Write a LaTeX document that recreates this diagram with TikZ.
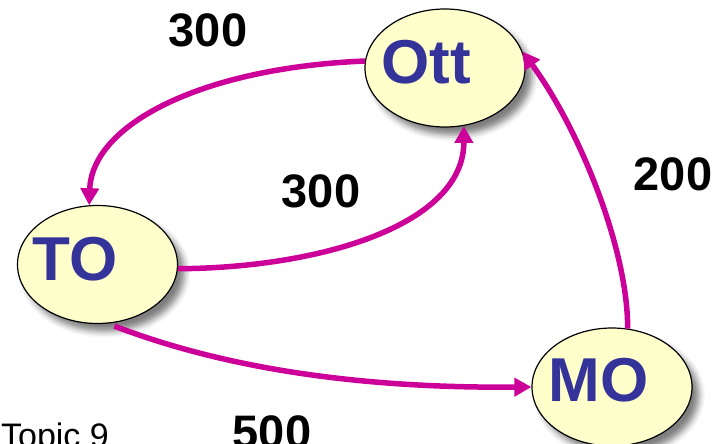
\documentclass[tikz,border=0pt]{standalone}
\usepackage{fontspec}
\setmainfont{Liberation Sans}
\usepackage{xcolor}
\usepackage{tikz}
\usetikzlibrary{arrows.meta,shapes.geometric,shadows.blur}
\definecolor{cityfill}{RGB}{255,255,204}
\definecolor{cityblue}{RGB}{51,51,153}
\definecolor{linkmagenta}{RGB}{204,0,153}

\begin{document}
\begin{tikzpicture}[
    x=1pt, y=-1pt,
    city/.style={ellipse, draw=black, line width=1.2pt, fill=cityfill, minimum width=160pt, minimum height=118pt, inner sep=0pt,
        blur shadow={shadow xshift=7pt, shadow yshift=-8pt, shadow blur radius=6pt, shadow opacity=50}},
    cityname/.style={anchor=base, inner sep=0pt, text=cityblue, font=\fontsize{62}{62}\selectfont\bfseries},
    cost/.style={anchor=base, inner sep=0pt, font=\fontsize{47}{47}\selectfont\bfseries},
    note/.style={anchor=base east, inner sep=0pt, font=\fontsize{34}{34}\selectfont},
    link/.style={draw=linkmagenta, line width=5.5pt, -{Triangle[length=17pt,width=18pt]}}
]
\useasboundingbox (0,0) rectangle (720,444);

\node[city] (ott) at (445,68) {};
\node[city] (to) at (97.5,264.5) {};
\node[city] (mo) at (612,387) {};

\node[cityname] (ottname) at (426.5,83) {Ott};
\node[cityname] (toname) at (75,280) {TO};
\node[cityname] (moname) at (598.5,401) {MO};

\draw[link] (ott.175) .. controls (200,68) and (92,125) .. (to.98);
\draw[link] (to.357) .. controls (320,268) and (464,225) .. (ott.288);
\draw[link, shorten <=7pt] (to.280) .. controls (250,378) and (400,388) .. (mo.180);
\draw[link] (mo.75) .. controls (628,250) and (580,130) .. (ott.12);

\node[cost] (costtop) at (208,47) {300};
\node[cost] (costmid) at (321,207) {300};
\node[cost] (costright) at (673,190) {200};
\node[cost] (costbottom) at (272,448) {500};

\node[note] (topic) at (109,447) {Topic 9};

\end{tikzpicture}
\end{document}
